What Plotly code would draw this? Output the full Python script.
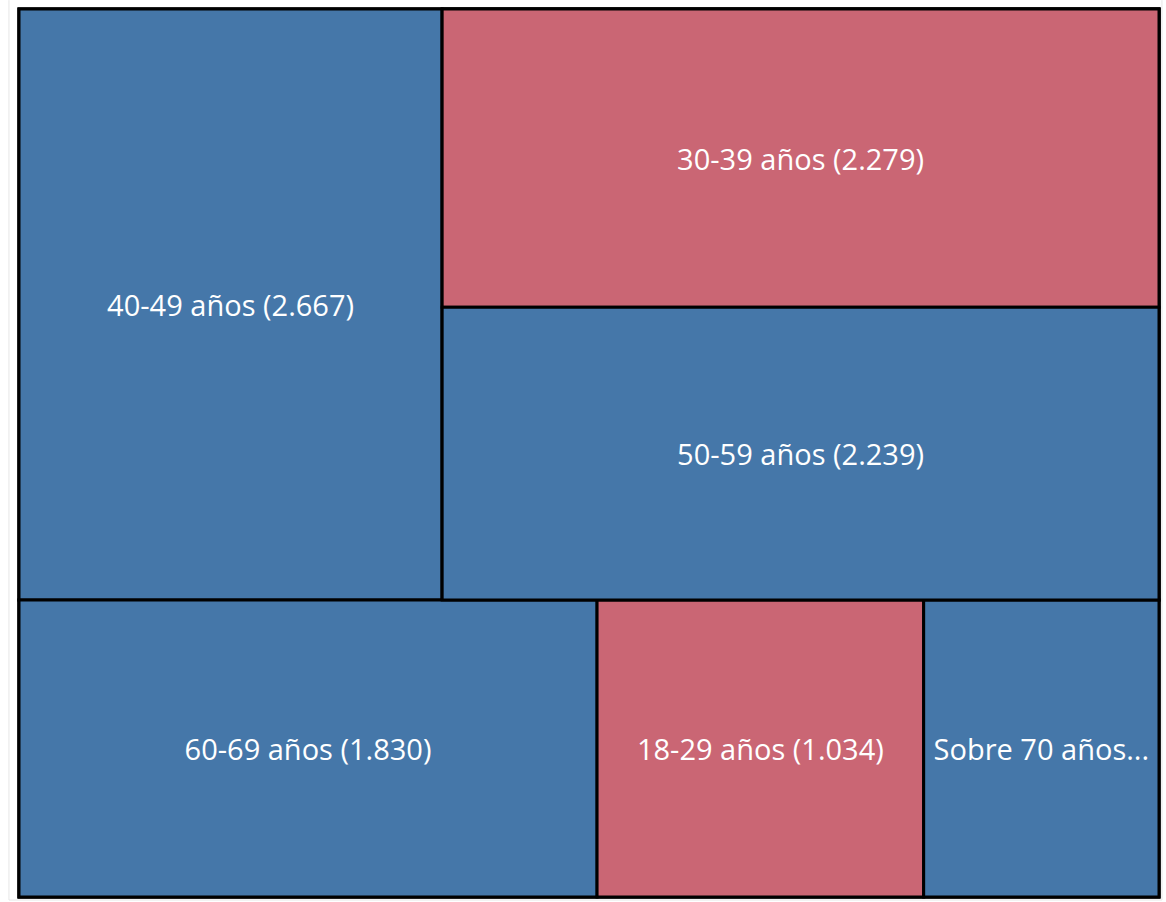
import plotly.graph_objects as go

# Data
categories = ["40-49 años", "30-39 años", "50-59 años", "60-69 años", "18-29 años", "Sobre 70 años"]
values = [2667, 2279, 2239, 1830, 1034, 745]
groups = ["arriba", "arriba-der", "arriba-der", "abajo", "abajo", "abajo"]
highlight = [False, True, False, False, True, False]
display_text = ["40-49 años (2.667)", "30-39 años (2.279)", "50-59 años (2.239)",
                "60-69 años (1.830)", "18-29 años (1.034)", "Sobre 70 años..."]

BLUE = "#4577A9"
RED = "#CA6674"

# helper hierarchy (invisible) that reproduces the original tile layout
group_ids = ["root", "arriba", "abajo", "arriba-der"]
group_parents = ["", "root", "root", "arriba"]

node = {}
for g, p in zip(group_ids, group_parents):
    node[g] = dict(label="", parent=p, value=0, text="", color=BLUE)
for c, v, g, h, t in zip(categories, values, groups, highlight, display_text):
    node[c] = dict(label=c, parent=g, value=v, text=t, color=RED if h else BLUE)

seq = ["root", "arriba", "abajo", "40-49 años", "arriba-der", "30-39 años", "50-59 años",
       "60-69 años", "18-29 años", "Sobre 70 años"]

fig = go.Figure(go.Treemap(
    ids=seq,
    labels=[node[s]["label"] for s in seq],
    parents=[node[s]["parent"] for s in seq],
    values=[node[s]["value"] for s in seq],
    text=[node[s]["text"] for s in seq],
    texttemplate="%{text}",
    textposition="middle center",
    branchvalues="remainder",
    sort=False,
    tiling=dict(packing="dice-slice", pad=0),
    marker=dict(colors=[node[s]["color"] for s in seq],
                line=dict(color="#000000", width=3),
                pad=dict(t=0, l=0, r=0, b=0)),
    pathbar=dict(visible=False),
    textfont=dict(family="Open Sans", size=29, color="white"),
    hoverinfo="label+value",
))

fig.update_layout(
    width=1166, height=902,
    margin=dict(l=19, r=7, t=9, b=5),
    paper_bgcolor="white",
    shapes=[dict(type="path", xref="paper", yref="paper",
                 path="M -0.0088,1.01 L -0.0088,-0.0034 L 1.0026,-0.0034 L 1.0026,1.01",
                 line=dict(color="#e6e6e6", width=1))],
)

fig.write_html(
    "out.html",
    config={"displayModeBar": False},
    post_script="document.body.style.margin='0';document.body.style.overflow='hidden';",
)
